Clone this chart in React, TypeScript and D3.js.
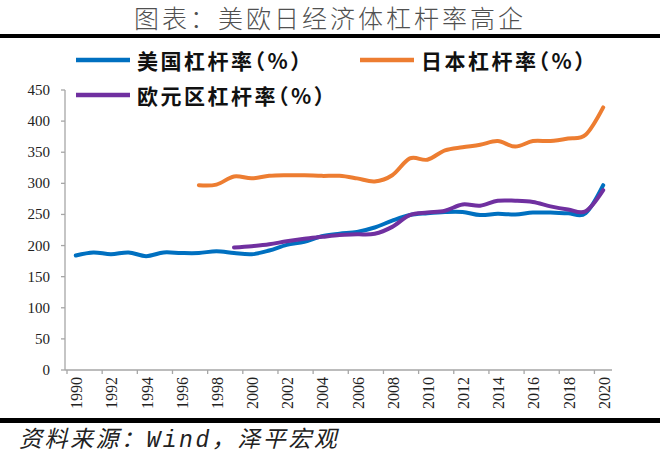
import React, { useEffect, useRef } from 'react';
import * as d3 from 'd3';

// 年份（类别轴）
const years = [
  1990, 1991, 1992, 1993, 1994, 1995, 1996, 1997, 1998, 1999,
  2000, 2001, 2002, 2003, 2004, 2005, 2006, 2007, 2008, 2009,
  2010, 2011, 2012, 2013, 2014, 2015, 2016, 2017, 2018, 2019, 2020,
];

// 美国杠杆率（%）
const usValues = [
  184, 189, 186, 189, 183, 189, 188, 188, 191, 188,
  186, 192, 201, 206, 215, 219, 222, 229, 240, 249,
  252, 254, 254, 249, 251, 250, 253, 253, 252, 252, 297,
];

// 日本杠杆率（%），1997 年起
const jpValues: (number | null)[] = [
  null, null, null, null, null, null, null, 297, 298, 311,
  308, 312, 313, 313, 312, 312, 308, 303, 313, 340,
  338, 353, 358, 362, 368, 359, 368, 368, 372, 378, 422,
];

// 欧元区杠杆率（%），1999 年起
const euValues: (number | null)[] = [
  null, null, null, null, null, null, null, null, null, 197,
  199, 202, 207, 211, 214, 217, 218, 219, 230, 249,
  253, 256, 266, 264, 272, 272, 270, 263, 258, 255, 289,
];

const yTicks = [0, 50, 100, 150, 200, 250, 300, 350, 400, 450];

const seriesNames = ['美国杠杆率（%）', '日本杠杆率（%）', '欧元区杠杆率（%）'];
const seriesColors = ['#0070C0', '#ED7D31', '#7030A0'];

const App: React.FC = () => {
  const svgRef = useRef<SVGSVGElement>(null);

  useEffect(() => {
    if (!svgRef.current) return;
    const svg = d3.select(svgRef.current);
    svg.selectAll('*').remove();

    const width = 660;
    const height = 458;
    const left = 65;
    const right = 612;
    const top = 90;
    const bottom = 370;

    svg.attr('width', width).attr('height', height);

    // title
    svg.append('text')
      .attr('x', width / 2)
      .attr('y', 17)
      .attr('text-anchor', 'middle')
      .attr('dominant-baseline', 'central')
      .attr('fill', '#505050')
      .style('font-family', '"Noto Sans CJK SC", sans-serif')
      .style('font-size', '25px')
      .style('font-weight', '300')
      .style('letter-spacing', '3px')
      .text('图表：美欧日经济体杠杆率高企');

    // rules
    svg.append('rect').attr('x', 0).attr('y', 34).attr('width', width).attr('height', 4).attr('fill', '#000');
    svg.append('rect').attr('x', 0).attr('y', 418).attr('width', width).attr('height', 5).attr('fill', '#000');

    // source
    svg.append('text')
      .attr('x', 19)
      .attr('y', 447)
      .attr('fill', '#222')
      .style('font-family', '"Liberation Mono", "Noto Sans CJK SC", monospace')
      .style('font-size', '23px')
      .style('font-style', 'italic')
      .style('letter-spacing', '2.5px')
      .text('资料来源：Wind，泽平宏观');

    const x = d3.scaleBand<number>().domain(years).range([left + 2, right]).padding(0);
    const y = d3.scaleLinear().domain([0, 450]).range([bottom, top]);
    const cx = (yr: number) => (x(yr) as number) + x.bandwidth() / 2;

    const axisColor = '#a6a6a6';

    // y axis
    svg.append('line')
      .attr('x1', left).attr('x2', left)
      .attr('y1', y(450)).attr('y2', y(0))
      .attr('stroke', axisColor).attr('stroke-width', 1.3);
    const yg = svg.append('g');
    yg.selectAll('line').data(yTicks).join('line')
      .attr('x1', left - 4).attr('x2', left)
      .attr('y1', (d) => y(d)).attr('y2', (d) => y(d))
      .attr('stroke', axisColor).attr('stroke-width', 1.3);
    yg.selectAll('text').data(yTicks).join('text')
      .attr('x', 50)
      .attr('y', (d) => y(d))
      .attr('text-anchor', 'end')
      .attr('dominant-baseline', 'central')
      .attr('fill', '#222')
      .style('font-family', '"Liberation Serif", "Times New Roman", serif')
      .style('font-size', '15px')
      .text((d) => d);

    // x axis
    svg.append('line')
      .attr('x1', left).attr('x2', right)
      .attr('y1', bottom).attr('y2', bottom)
      .attr('stroke', axisColor).attr('stroke-width', 1.3);
    const labelYears = years.filter((yr) => yr % 2 === 0);
    const xg = svg.append('g');
    xg.selectAll('line').data(labelYears).join('line')
      .attr('x1', (d) => x(d) as number).attr('x2', (d) => x(d) as number)
      .attr('y1', bottom).attr('y2', bottom + 4)
      .attr('stroke', axisColor).attr('stroke-width', 1.3);
    xg.selectAll('text').data(labelYears).join('text')
      .attr('transform', (d) => `translate(${cx(d) + 1},${bottom + 7}) rotate(-90)`)
      .attr('text-anchor', 'end')
      .attr('dominant-baseline', 'central')
      .attr('fill', '#222')
      .style('font-family', '"Liberation Serif", "Times New Roman", serif')
      .style('font-size', '16px')
      .text((d) => d);

    // lines
    const allSeries = [usValues, jpValues, euValues];
    const line = d3.line<[number, number | null]>()
      .defined((d) => d[1] !== null)
      .x((d) => cx(d[0]))
      .y((d) => y(d[1] as number))
      .curve(d3.curveCardinal.tension(0));

    allSeries.forEach((vals, i) => {
      const pts = years.map((yr, j) => [yr, vals[j]] as [number, number | null]);
      svg.append('path')
        .attr('d', line(pts) as string)
        .attr('fill', 'none')
        .attr('stroke', seriesColors[i])
        .attr('stroke-width', 4)
        .attr('stroke-linecap', 'round')
        .attr('stroke-linejoin', 'round');
    });

    // legend
    const legendPos = [
      { lx: 76, ly: 60 },
      { lx: 360, ly: 60 },
      { lx: 76, ly: 95 },
    ];
    seriesNames.forEach((name, i) => {
      const { lx, ly } = legendPos[i];
      svg.append('line')
        .attr('x1', lx).attr('x2', lx + 54)
        .attr('y1', ly).attr('y2', ly)
        .attr('stroke', seriesColors[i])
        .attr('stroke-width', 4.5);
      svg.append('text')
        .attr('x', lx + 61)
        .attr('y', ly)
        .attr('dominant-baseline', 'central')
        .attr('fill', '#111')
        .style('font-family', '"Noto Sans CJK SC", sans-serif')
        .style('font-size', '21px')
        .style('font-weight', 'bold')
        .style('letter-spacing', '2.5px')
        .style('font-feature-settings', '"halt"')
        .text(name);
    });
  }, []);

  return <svg ref={svgRef} style={{ position: 'absolute', left: 0, top: 0 }}></svg>;
};

export default App;
